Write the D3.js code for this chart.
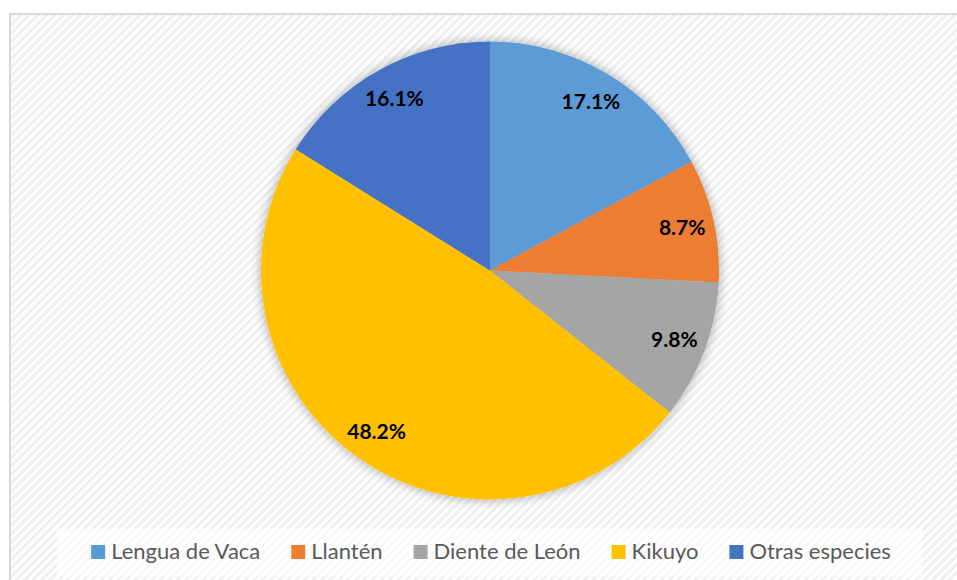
<!DOCTYPE html>
<html>
<head>
<meta charset="utf-8">
<script src="https://cdn.jsdelivr.net/npm/d3@7"></script>
<style>
  body { margin: 0; background: #fff; }
  svg { display: block; font-family: Lato, "Open Sans", sans-serif; }
</style>
</head>
<body>
<svg id="chart" width="957" height="580"></svg>
<script>
// data
var categories = ["Lengua de Vaca", "Llantén", "Diente de León", "Kikuyo", "Otras especies"];
var values = [17.1, 8.7, 9.8, 48.2, 16.1];
var colors = ["#5b9bd5", "#ed7d31", "#a5a5a5", "#ffc000", "#4472c4"];

var width = 957, height = 580;
var cx = 490, cy = 270.5, radius = 229;

const svg = d3.select('#chart');
const defs = svg.append('defs');

// faint diagonal stripes, like the office chart background
const pat = defs.append('pattern')
  .attr('id', 'stripes')
  .attr('width', 6).attr('height', 6)
  .attr('patternUnits', 'userSpaceOnUse')
  .attr('patternTransform', 'rotate(45)');
pat.append('rect').attr('width', 6).attr('height', 6).attr('fill', '#ffffff');
pat.append('rect').attr('width', 3).attr('height', 6).attr('fill', '#f0f0f0');

const shadow = defs.append('filter').attr('id', 'glow')
  .attr('x', '-20%').attr('y', '-20%').attr('width', '140%').attr('height', '140%');
shadow.append('feGaussianBlur').attr('in', 'SourceAlpha').attr('stdDeviation', 6).attr('result', 'b');
shadow.append('feComponentTransfer').attr('in', 'b').attr('result', 'c')
  .append('feFuncA').attr('type', 'linear').attr('slope', 0.35);
const merge = shadow.append('feMerge');
merge.append('feMergeNode').attr('in', 'c');
merge.append('feMergeNode').attr('in', 'SourceGraphic');

// chart area with border
svg.append('rect')
  .attr('x', 10).attr('y', 14)
  .attr('width', width + 10).attr('height', height)
  .attr('fill', 'url(#stripes)')
  .attr('stroke', '#d9d9d9').attr('stroke-width', 2);

const pie = d3.pie().sort(null).value(d => d)
const arcs = pie(values);
const arc = d3.arc().innerRadius(0).outerRadius(radius);
const labelArc = d3.arc().innerRadius(197).outerRadius(197);

const g = svg.append('g').attr('transform', 'translate(' + cx + ',' + cy + ')');

g.append('g').attr('filter', 'url(#glow)')
  .selectAll('path')
  .data(arcs)
  .enter().append('path')
  .attr('d', arc)
  .attr('fill', (d, i) => colors[i]);

g.selectAll('text.lbl')
  .data(arcs)
  .enter().append('text')
  .attr('class', 'lbl')
  .attr('transform', d => 'translate(' + labelArc.centroid(d) + ')')
  .attr('text-anchor', 'middle')
  .attr('dy', '0.35em')
  .style('font-size', '21px')
  .style('font-weight', 'bold')
  .style('fill', '#000')
  .text(d => d.value.toFixed(1) + '%');

// legend
svg.append('rect')
  .attr('x', 57).attr('y', 529)
  .attr('width', 865).attr('height', 48)
  .attr('fill', '#ffffff').attr('opacity', 0.6);

const legend = svg.append('g');
var x = 0;
categories.forEach(function(name, i) {
  const it = legend.append('g').attr('transform', 'translate(' + x + ',0)');
  it.append('rect')
    .attr('x', 0).attr('y', -14)
    .attr('width', 14).attr('height', 14)
    .attr('fill', colors[i]);
  const t = it.append('text')
    .attr('x', 20).attr('y', 0)
    .style('font-size', '22px')
    .style('fill', '#595959')
    .text(name);
  var w = t.node().getComputedTextLength();
  x += 20 + w + 31;
});
var total = x - 31;
legend.attr('transform', 'translate(' + (491 - total / 2) + ',559)');
</script>
</body>
</html>
